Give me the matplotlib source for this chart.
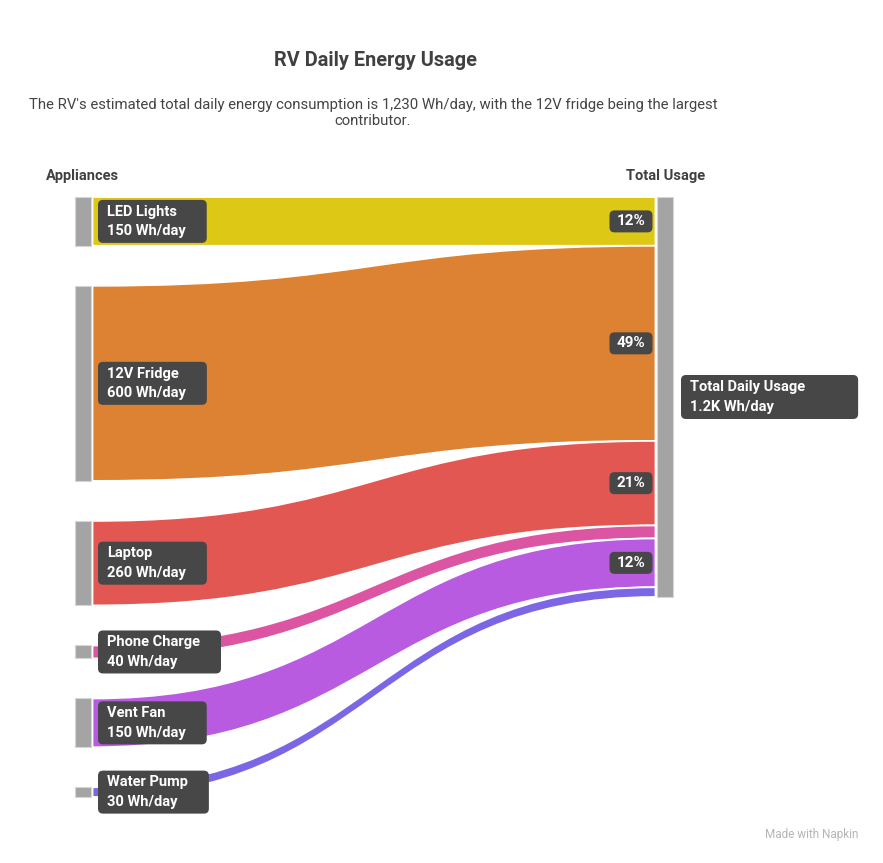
import matplotlib.pyplot as plt
from matplotlib.path import Path
from matplotlib.patches import PathPatch, Rectangle, FancyBboxPatch

plt.rcParams['font.family'] = ['Roboto', 'DejaVu Sans']

appliances = ['LED Lights', '12V Fridge', 'Laptop', 'Phone Charge', 'Vent Fan', 'Water Pump']
usage = [150, 600, 260, 40, 150, 30]
flow_colors = ['#DEC816', '#DC8232', '#E35753', '#DB55A3', '#B95BE0', '#7C66E6']
target = 'Total Daily Usage'
title = 'RV Daily Energy Usage'
subtitle = ("The RV's estimated total daily energy consumption is 1,230 Wh/day, with the 12V fridge being the largest\n"
            "contributor.")

total = sum(usage)

fig = plt.figure(figsize=(8.83, 8.63), dpi=100)
ax = fig.add_axes([0, 0, 1, 1])
ax.set_xlim(0, 883)
ax.set_ylim(863, 0)
ax.axis('off')
renderer = fig.canvas.get_renderer()

# layout (pixels)
top = 197
scale = 400 / total
gap = 40
node_w = 16
lx, rx = 75, 657
x0, x1 = lx + node_w + 1.5, rx - 1.5
node_gray = '#A4A4A4'
box_gray = '#474747'


def label(x, yc, txt, pad_l, pad_r, h, size=10.5):
    t = ax.text(x, yc, txt, ha='left', va='center', color='white', fontsize=size,
                fontweight='bold', linespacing=1.5, zorder=6)
    bb = t.get_window_extent(renderer)
    w = bb.width
    ax.add_patch(FancyBboxPatch((x - pad_l, yc - h / 2), w + pad_l + pad_r, h,
                                boxstyle='round,pad=0,rounding_size=5',
                                facecolor=box_gray, edgecolor='none', zorder=5))


ly = top
ry = top
for name, v, c in zip(appliances, usage, flow_colors):
    h = v * scale
    xm = (x0 + x1) / 2
    verts = [(x0, ly), (xm, ly), (xm, ry), (x1, ry),
             (x1, ry + h),
             (xm, ry + h), (xm, ly + h), (x0, ly + h),
             (x0, ly)]
    codes = [Path.MOVETO, Path.CURVE4, Path.CURVE4, Path.CURVE4,
             Path.LINETO,
             Path.CURVE4, Path.CURVE4, Path.CURVE4,
             Path.CLOSEPOLY]
    ax.add_patch(PathPatch(Path(verts, codes), facecolor=c, edgecolor='white', lw=1.3, zorder=2))
    # left node
    ax.add_patch(Rectangle((lx, ly), node_w, h, facecolor=node_gray, edgecolor='#D6D6D6', lw=0.8, zorder=3))
    # left label
    label(107, ly + h / 2, f'{name}\n{v} Wh/day', 9, 21, 43)
    pct = v / total * 100
    if pct >= 5:
        ax.text(x1 - 24.5, ry + h / 2, f'{pct:.0f}%', ha='center', va='center', color='white',
                fontsize=11, fontweight='bold', zorder=6)
        ax.add_patch(FancyBboxPatch((x1 - 46, ry + h / 2 - 11), 43, 22,
                                    boxstyle='round,pad=0,rounding_size=5',
                                    facecolor=box_gray, edgecolor='none', zorder=5))
    ly += h + gap
    ry += h

# right node
ax.add_patch(Rectangle((rx, top), node_w, total * scale, facecolor=node_gray, edgecolor='#D6D6D6', lw=0.8, zorder=3))
label(690, top + total * scale / 2, f'{target}\n{total / 1000:.1f}K Wh/day', 9, 53, 44)

# titles
ax.text(375, 60, title, ha='center', va='center', fontsize=14.3, fontweight='bold', color='#404040')
ax.text(373, 113, subtitle, ha='center', va='center', fontsize=10.7, color='#444444', linespacing=1.25)
ax.text(46, 176, 'Appliances', ha='left', va='center', fontsize=10.5, fontweight='bold', color='#404040')
ax.text(705, 176, 'Total Usage', ha='right', va='center', fontsize=10.5, fontweight='bold', color='#404040')
ax.text(858, 834, 'Made with Napkin', ha='right', va='center', fontsize=8.5, color='#B5B5B5')

fig.savefig('out.png', dpi=100)
